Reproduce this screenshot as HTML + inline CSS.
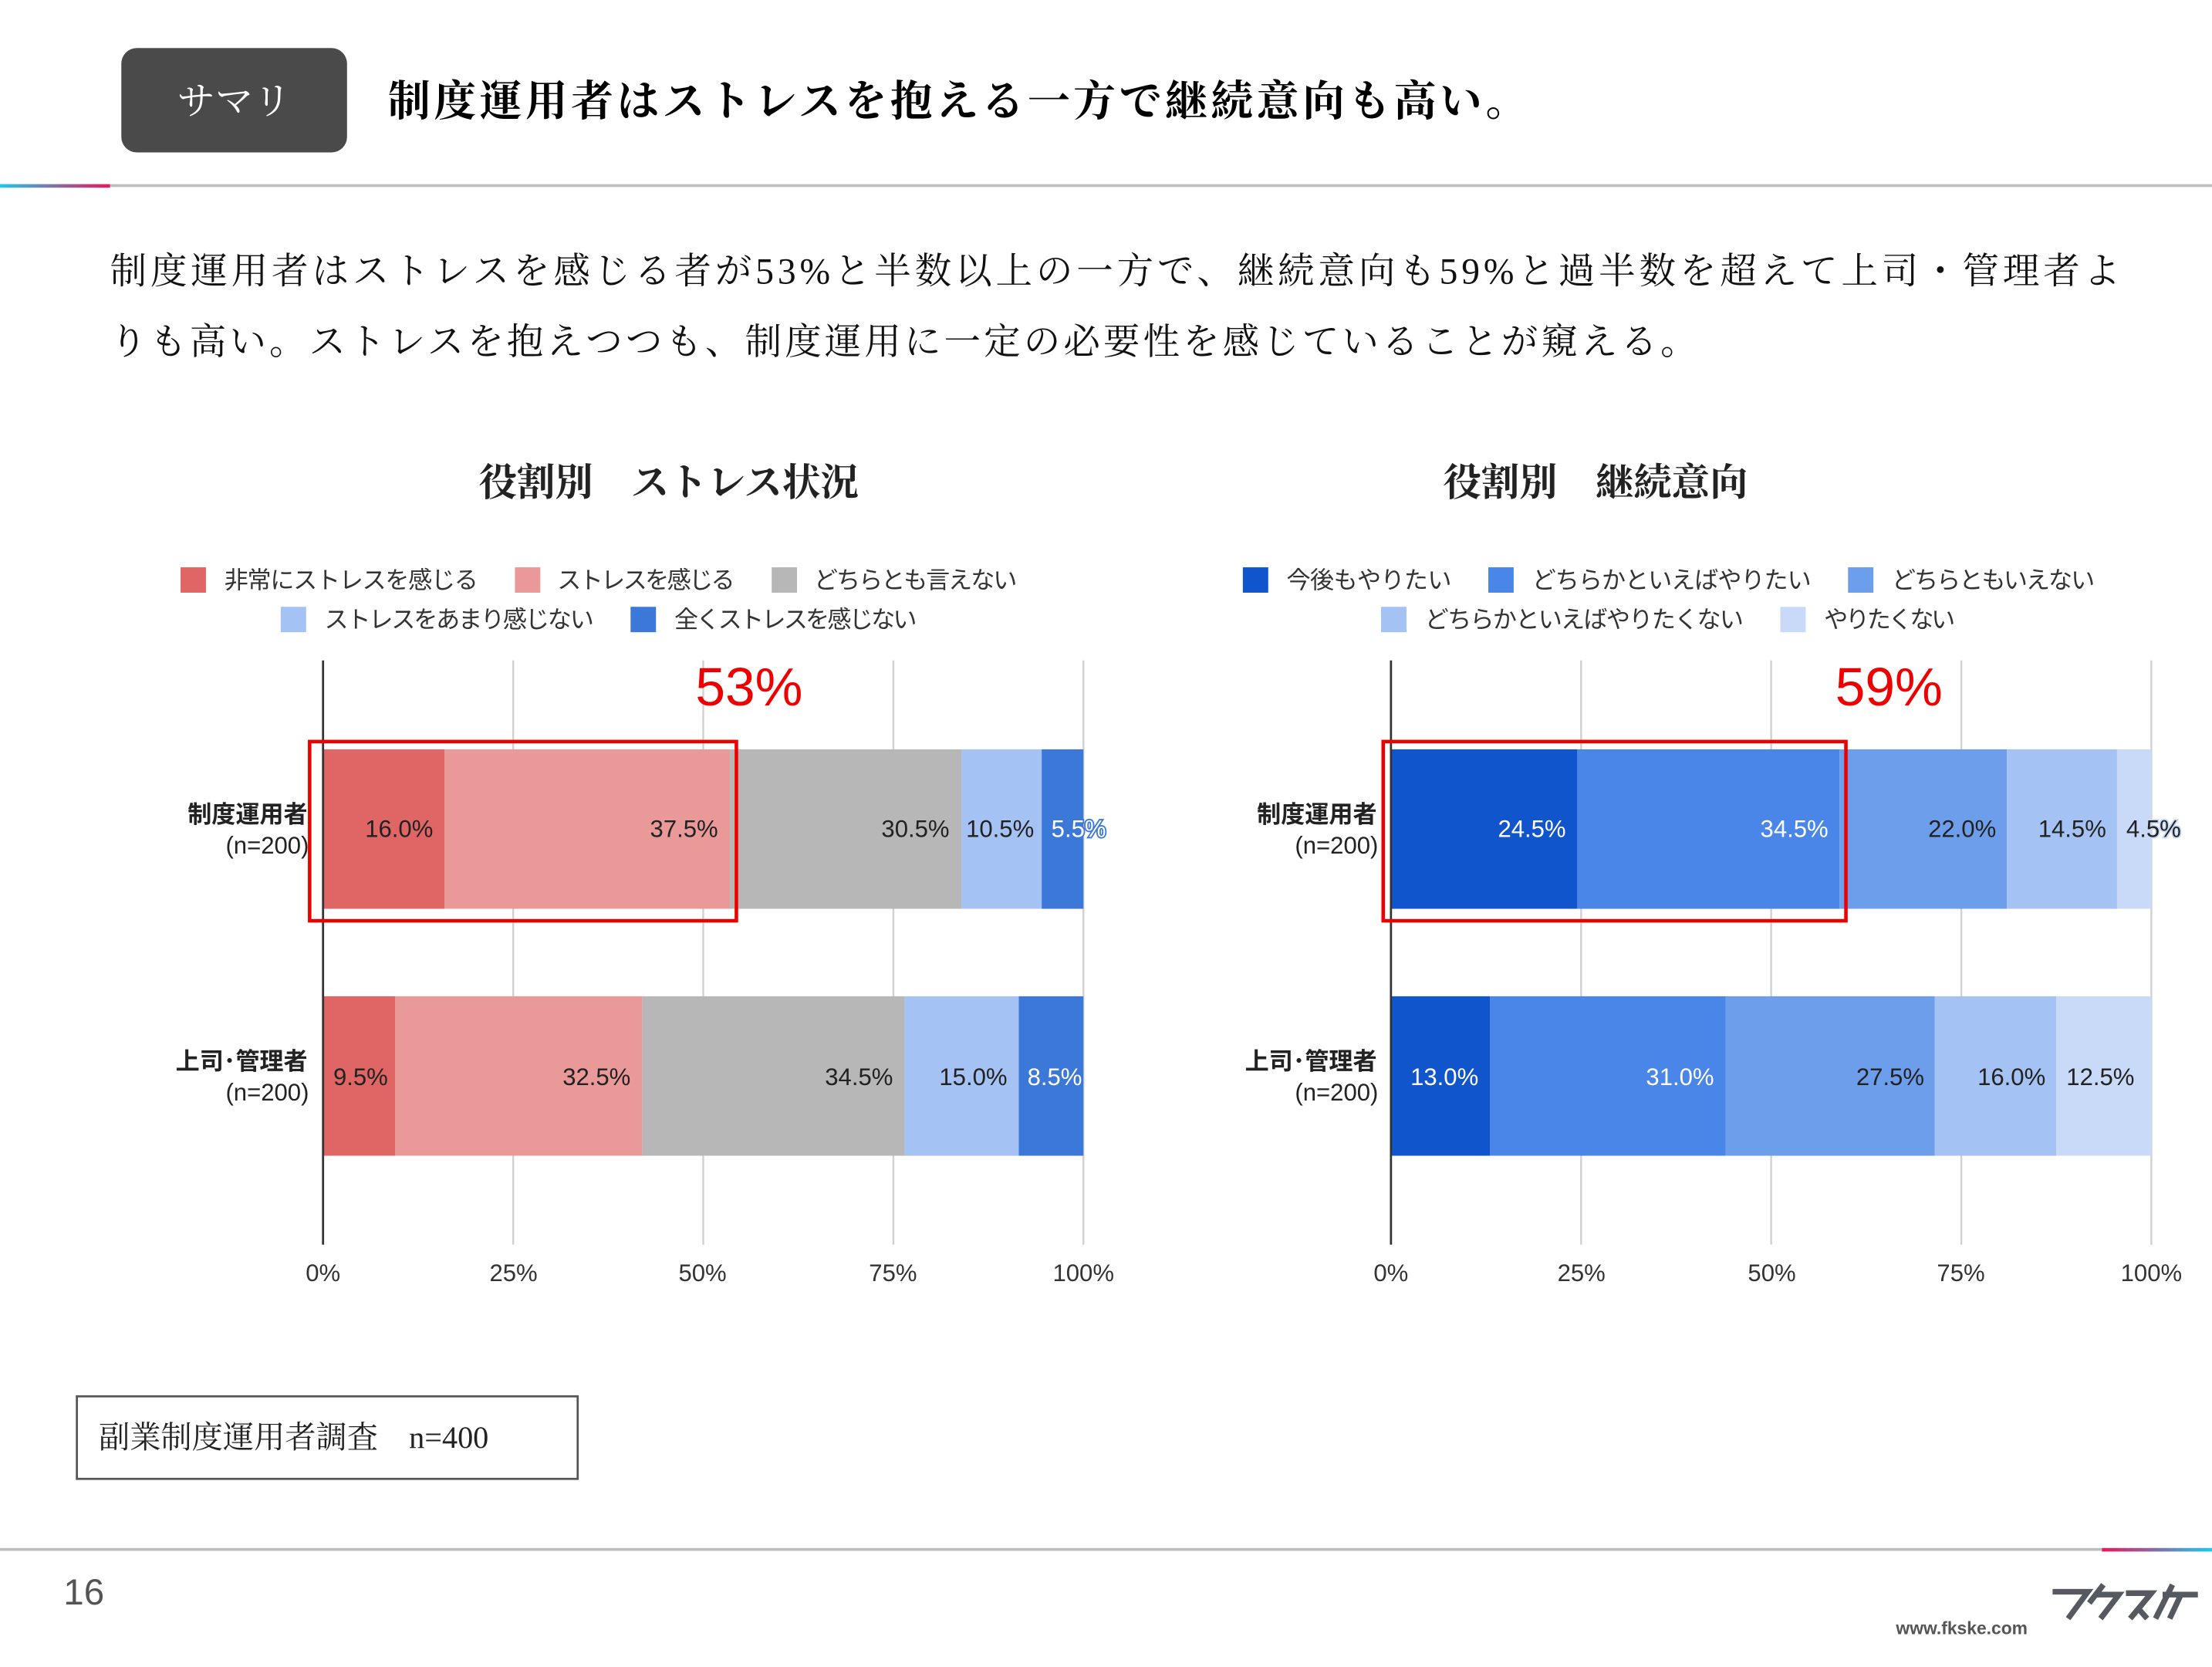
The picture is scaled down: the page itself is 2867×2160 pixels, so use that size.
<!DOCTYPE html>
<html><head><meta charset="utf-8"><style>
html,body{margin:0;padding:0;background:#fff;}
svg{display:block;}
.s{font-family:"Liberation Serif","Noto Serif CJK SC","Noto Sans CJK JP",serif;}
.g{font-family:"Liberation Sans","Noto Sans CJK JP",sans-serif;}
</style></head><body>
<svg width="2867" height="2160" viewBox="0 0 1568 1181.3" xmlns="http://www.w3.org/2000/svg">
<defs>
<linearGradient id="gl" x1="0" x2="1"><stop offset="0" stop-color="#1ec8f0"/><stop offset="1" stop-color="#e8175d"/></linearGradient>
<linearGradient id="gr" x1="0" x2="1"><stop offset="0" stop-color="#e8175d"/><stop offset="1" stop-color="#1ec8f0"/></linearGradient>
</defs>
<rect width="1568" height="1181.3" fill="#fff"/>
<!-- header -->
<rect x="86" y="34" width="160" height="74" rx="11" fill="#4a4a4a"/>
<text x="166" y="81" text-anchor="middle" class="s" font-size="27" fill="#fff">サマリ</text>
<text x="275" y="82" class="s" font-size="30" font-weight="bold" fill="#000" textLength="808">制度運用者はストレスを抱える一方で継続意向も高い。</text>
<rect x="0" y="130.5" width="1568" height="2" fill="#bdbdbd"/>
<rect x="0" y="130.5" width="78" height="2.5" fill="url(#gl)"/>
<!-- paragraph -->
<text x="78" y="201" class="s" font-size="26" fill="#111" textLength="1425">制度運用者はストレスを感じる者が53%と半数以上の一方で、継続意向も59%と過半数を超えて上司・管理者よ</text>
<text x="78" y="251" class="s" font-size="26" fill="#111" textLength="1125">りも高い。ストレスを抱えつつも、制度運用に一定の必要性を感じていることが窺える。</text>
<!-- titles -->
<text x="474" y="351" text-anchor="middle" class="s" font-size="27" font-weight="bold" fill="#222">役割別　ストレス状況</text>
<text x="1131" y="351" text-anchor="middle" class="s" font-size="27" font-weight="bold" fill="#222">役割別　継続意向</text>
<!-- legends -->
<g class="g" font-size="17" fill="#333">
<rect x="128" y="402" width="18" height="18" fill="#e06666"/><text x="159" y="417" textLength="180">非常にストレスを感じる</text>
<rect x="365" y="402" width="18" height="18" fill="#ea9999"/><text x="395" y="417" textLength="126">ストレスを感じる</text>
<rect x="547" y="402" width="18" height="18" fill="#b7b7b7"/><text x="577" y="417" textLength="144">どちらとも言えない</text>
<rect x="199" y="430" width="18" height="18" fill="#a4c2f4"/><text x="230" y="445" textLength="191">ストレスをあまり感じない</text>
<rect x="447" y="430" width="18" height="18" fill="#3c78d8"/><text x="478" y="445" textLength="172">全くストレスを感じない</text>
<rect x="881" y="402" width="18" height="18" fill="#1155cc"/><text x="912" y="417" textLength="117">今後もやりたい</text>
<rect x="1055" y="402" width="18" height="18" fill="#4a86e8"/><text x="1086" y="417" textLength="198">どちらかといえばやりたい</text>
<rect x="1310" y="402" width="18" height="18" fill="#6d9eeb"/><text x="1341" y="417" textLength="144">どちらともいえない</text>
<rect x="979" y="430" width="18" height="18" fill="#a4c2f4"/><text x="1010" y="445" textLength="226">どちらかといえばやりたくない</text>
<rect x="1262" y="430" width="18" height="18" fill="#c9daf8"/><text x="1293" y="445" textLength="93">やりたくない</text>
</g>
<!-- gridlines -->
<g stroke="#d0d0d0" stroke-width="1.3">
<line x1="363.8" y1="468" x2="363.8" y2="882"/><line x1="498.5" y1="468" x2="498.5" y2="882"/><line x1="633.3" y1="468" x2="633.3" y2="882"/><line x1="768" y1="468" x2="768" y2="882"/>
<line x1="1120.8" y1="468" x2="1120.8" y2="882"/><line x1="1255.5" y1="468" x2="1255.5" y2="882"/><line x1="1390.3" y1="468" x2="1390.3" y2="882"/><line x1="1525" y1="468" x2="1525" y2="882"/>
</g>
<!-- left bars -->
<rect x="229" y="531" width="86.2" height="113" fill="#e06666"/>
<rect x="315.2" y="531" width="202.2" height="113" fill="#ea9999"/>
<rect x="517.4" y="531" width="164.4" height="113" fill="#b7b7b7"/>
<rect x="681.8" y="531" width="56.6" height="113" fill="#a4c2f4"/>
<rect x="738.4" y="531" width="29.6" height="113" fill="#3c78d8"/>
<rect x="229" y="706" width="51.2" height="113" fill="#e06666"/>
<rect x="280.2" y="706" width="175.2" height="113" fill="#ea9999"/>
<rect x="455.4" y="706" width="185.9" height="113" fill="#b7b7b7"/>
<rect x="641.3" y="706" width="80.9" height="113" fill="#a4c2f4"/>
<rect x="722.2" y="706" width="45.8" height="113" fill="#3c78d8"/>
<!-- right bars -->
<rect x="986" y="531" width="132.1" height="113" fill="#1155cc"/>
<rect x="1118.1" y="531" width="185.9" height="113" fill="#4a86e8"/>
<rect x="1304" y="531" width="118.6" height="113" fill="#6d9eeb"/>
<rect x="1422.6" y="531" width="78.1" height="113" fill="#a4c2f4"/>
<rect x="1500.7" y="531" width="24.3" height="113" fill="#c9daf8"/>
<rect x="986" y="706" width="70.1" height="113" fill="#1155cc"/>
<rect x="1056.1" y="706" width="167.1" height="113" fill="#4a86e8"/>
<rect x="1223.2" y="706" width="148.2" height="113" fill="#6d9eeb"/>
<rect x="1371.4" y="706" width="86.2" height="113" fill="#a4c2f4"/>
<rect x="1457.6" y="706" width="67.4" height="113" fill="#c9daf8"/>
<!-- axes -->
<line x1="229" y1="468" x2="229" y2="882" stroke="#333" stroke-width="1.5"/>
<line x1="986" y1="468" x2="986" y2="882" stroke="#333" stroke-width="1.5"/>
<!-- value labels -->
<g class="g" font-size="17" text-anchor="end" fill="#222">
<text x="307" y="593">16.0%</text><text x="509" y="593">37.5%</text><text x="673" y="593">30.5%</text><text x="733" y="593">10.5%</text>
<text x="784" y="593" fill="#fff" stroke="#3c78d8" stroke-width="2" paint-order="stroke">5.5%</text>
<text x="275" y="769">9.5%</text><text x="447" y="769">32.5%</text><text x="633" y="769">34.5%</text><text x="714" y="769">15.0%</text>
<text x="767" y="769" fill="#fff">8.5%</text>
<text x="1110" y="593" fill="#fff">24.5%</text><text x="1296" y="593" fill="#fff">34.5%</text><text x="1415" y="593">22.0%</text><text x="1493" y="593">14.5%</text><text x="1546" y="593" stroke="#c9daf8" stroke-width="2" paint-order="stroke">4.5%</text>
<text x="1048" y="769" fill="#fff">13.0%</text><text x="1215" y="769" fill="#fff">31.0%</text><text x="1364" y="769">27.5%</text><text x="1450" y="769">16.0%</text><text x="1513" y="769">12.5%</text>
</g>
<!-- category labels -->
<g class="g" font-size="17" text-anchor="end" fill="#222">
<text x="218" y="583" font-weight="bold">制度運用者</text><text x="219" y="605">(n=200)</text>
<text x="218" y="758" font-weight="bold">上司･管理者</text><text x="219" y="780">(n=200)</text>
<text x="976" y="583" font-weight="bold">制度運用者</text><text x="977" y="605">(n=200)</text>
<text x="976" y="758" font-weight="bold">上司･管理者</text><text x="977" y="780">(n=200)</text>
</g>
<!-- ticks -->
<g class="g" font-size="17" text-anchor="middle" fill="#333">
<text x="229" y="908">0%</text><text x="364" y="908">25%</text><text x="498" y="908">50%</text><text x="633" y="908">75%</text><text x="768" y="908">100%</text>
<text x="986" y="908">0%</text><text x="1121" y="908">25%</text><text x="1256" y="908">50%</text><text x="1390" y="908">75%</text><text x="1525" y="908">100%</text>
</g>
<!-- highlights -->
<rect x="219.5" y="525.5" width="302.5" height="127" fill="none" stroke="#ee0000" stroke-width="2.5"/>
<rect x="980.5" y="525.5" width="328" height="127" fill="none" stroke="#ee0000" stroke-width="2.5"/>
<text x="531" y="500" text-anchor="middle" class="g" font-size="38" fill="#ee0000">53%</text>
<text x="1339" y="500" text-anchor="middle" class="g" font-size="38" fill="#ee0000">59%</text>
<!-- note box -->
<rect x="54.5" y="989.5" width="355" height="58.5" fill="none" stroke="#555" stroke-width="1.5"/>
<text x="70" y="1026" class="s" font-size="22" fill="#222">副業制度運用者調査　n=400</text>
<!-- footer -->
<rect x="0" y="1097" width="1568" height="2" fill="#bdbdbd"/>
<rect x="1490" y="1097" width="78" height="2.5" fill="url(#gr)"/>
<text x="45" y="1137" class="g" font-size="26" fill="#555">16</text>
<text x="1344" y="1158" class="g" font-size="12.5" font-weight="bold" fill="#555">www.fkske.com</text>
<g stroke="#555a60" stroke-width="4" fill="none" stroke-linecap="butt">
<path d="M1455 1128 L1480 1128 L1466 1147"/>
<path d="M1491 1123 L1481 1136 M1486 1130 L1502 1130 L1489 1147"/>
<path d="M1507 1129 L1525 1129 L1510 1147 M1515 1139 L1522 1147"/>
<path d="M1540 1123 L1528 1147 M1533 1130 L1558 1130 M1546 1130 L1538 1147"/>
</g>
</svg>
</body></html>
